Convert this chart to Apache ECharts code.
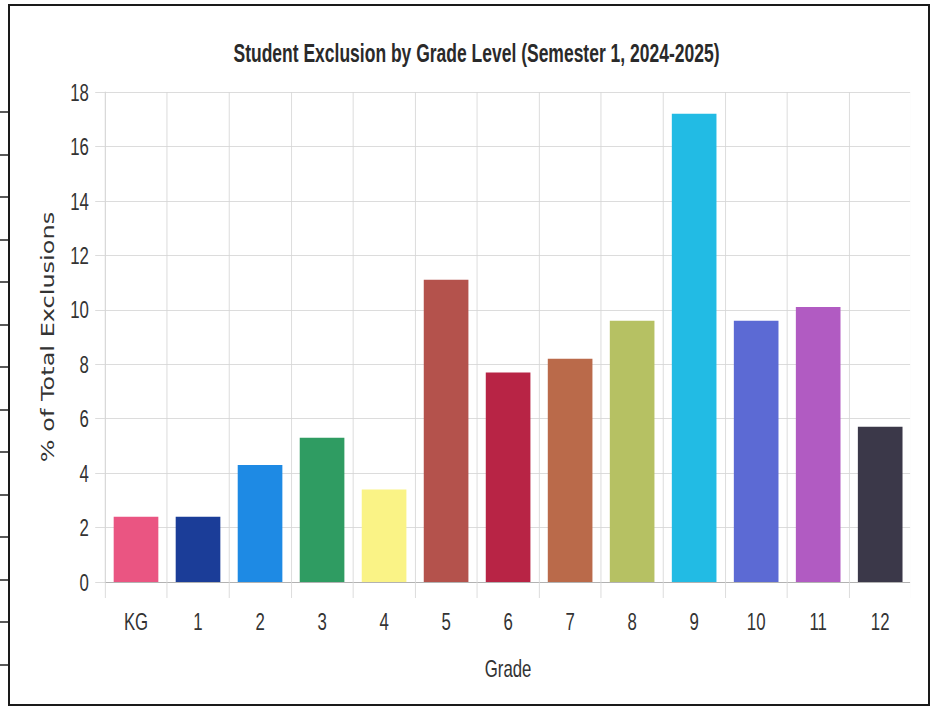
<!DOCTYPE html>
<html>
<head>
<meta charset="utf-8">
<script src="https://cdn.jsdelivr.net/npm/echarts@6/dist/echarts.min.js"></script>
<style>
  html, body { margin: 0; padding: 0; background: #ffffff; overflow: hidden; width: 935px; height: 709px; }
  #wrap { position: relative; width: 935px; height: 709px; overflow: hidden; }
  /* the chart is laid out wider and squeezed horizontally for narrow lettering */
  #chart { position: absolute; left: 0; top: 0; width: 1336px; height: 709px;
           transform: scaleX(0.7); transform-origin: 0 0; }
  #frame { position: absolute; left: 8px; top: 4px; width: 918px; height: 698px;
           border: 2.5px solid #1a1a1a; pointer-events: none; }
</style>
</head>
<body>
<div id="wrap">
  <div id="chart"></div>
  <div id="frame"></div>
</div>
<script>
// Grade levels along the x axis
const grades = ['KG', '1', '2', '3', '4', '5', '6', '7', '8', '9', '10', '11', '12'];
// Share of all exclusions for each grade (%)
const exclusionPct = [2.4, 2.4, 4.3, 5.3, 3.4, 11.1, 7.7, 8.2, 9.6, 17.2, 9.6, 10.1, 5.7];
// One fill colour per grade
const gradeColors = ['#ea5582', '#1b3d98', '#1e8ae4', '#2f9c62', '#faf386', '#b4524c',
                     '#b82445', '#ba6a4a', '#b6c163', '#22bbe4', '#5c6ad4', '#b15bc2', '#3b3849'];

const SX = 0.7;                       // horizontal squeeze applied by CSS
const sans = '"Liberation Sans", Arial, sans-serif';
const gridColor = '#d6d6d6';
const gridLeft = 105 / SX, gridRight = 24 / SX, gridTop = 92, gridBottom = 127;

const chart = echarts.init(document.getElementById('chart'), null, { renderer: 'svg' });

// Row marks of the surrounding table on the left edge
const edgeMarks = [];
for (let y = 112; y < 700; y += 42.5) {
  edgeMarks.push({
    type: 'line',
    shape: { x1: 0, y1: Math.round(y), x2: 8 / SX, y2: Math.round(y) },
    style: { stroke: '#222', lineWidth: 1.5 }
  });
}

chart.setOption({
  animation: false,
  backgroundColor: '#ffffff',
  title: {
    text: 'Student Exclusion by Grade Level (Semester 1, 2024-2025)',
    left: 473 / SX,
    textAlign: 'center',
    top: 36,
    textStyle: { fontFamily: sans, fontSize: 25, fontWeight: 'bold', color: '#2a2a2a' }
  },
  grid: { left: gridLeft, right: gridRight, top: gridTop, bottom: gridBottom, containLabel: false },
  xAxis: {
    type: 'category',
    data: grades,
    name: 'Grade',
    nameLocation: 'middle',
    nameGap: 74,
    nameTextStyle: { fontFamily: sans, fontSize: 24, color: '#333' },
    axisLine: { show: true, lineStyle: { color: '#aaaaaa', width: 1 } },
    axisTick: { show: true, length: 16, lineStyle: { color: gridColor } },
    axisLabel: { margin: 27, fontFamily: sans, fontSize: 24, color: '#333' },
    splitLine: { show: true, lineStyle: { color: gridColor, width: 1 } }
  },
  yAxis: {
    type: 'value',
    min: 0,
    max: 18,
    interval: 2,
    name: '% of Total Exclusions',
    nameLocation: 'middle',
    nameGap: 69,
    nameTextStyle: { fontFamily: '"DejaVu Sans", sans-serif', fontSize: 24, color: '#333' },
    axisLine: { show: true, lineStyle: { color: gridColor, width: 1 } },
    axisTick: { show: true, length: 14, lineStyle: { color: gridColor } },
    axisLabel: { margin: 23, fontFamily: sans, fontSize: 24, color: '#333' },
    splitLine: { show: true, lineStyle: { color: gridColor, width: 1 } }
  },
  series: [{
    type: 'bar',
    data: exclusionPct.map((v, i) => ({ value: v, itemStyle: { color: gradeColors[i] } })),
    barCategoryGap: '28%',
    silent: true
  }],
  graphic: [
    // the plot has no closing grid line on its right side
    {
      type: 'rect',
      right: gridRight - 1.5,
      top: gridTop - 1,
      shape: { width: 3, height: 709 - gridTop - gridBottom + 20 },
      style: { fill: '#ffffff' },
      z: 10
    }
  ].concat(edgeMarks)
});
</script>
</body>
</html>
